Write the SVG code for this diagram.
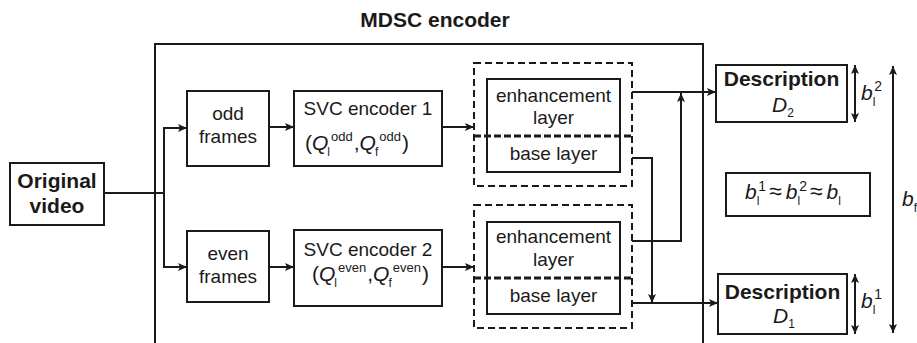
<svg xmlns="http://www.w3.org/2000/svg" width="917" height="343" viewBox="0 0 917 343">
  <defs>
    <marker id="arr" viewBox="0 0 9 8" refX="9" refY="4" markerWidth="9" markerHeight="8" markerUnits="userSpaceOnUse" orient="auto-start-reverse">
      <path d="M0,0 L9,4 L0,8 L2,4 z" fill="#1a1a1a"/>
    </marker>
    <style>
      .box { fill: #fff; stroke: #1a1a1a; stroke-width: 2; }
      .dash { fill: none; stroke: #1a1a1a; stroke-width: 2; stroke-dasharray: 7 4; }
      .mid { fill: none; stroke: #1a1a1a; stroke-width: 3.2; stroke-dasharray: 7 3; }
      .ln { fill: none; stroke: #1a1a1a; stroke-width: 2; }
      .ar { fill: none; stroke: #1a1a1a; stroke-width: 2; marker-end: url(#arr); }
      .dbl { fill: none; stroke: #1a1a1a; stroke-width: 2; marker-start: url(#arr); marker-end: url(#arr); }
      text { font-family: "Liberation Sans", Arial, sans-serif; fill: #1a1a1a; }
      .t { font-size: 19px; text-anchor: middle; }
      .b { font-size: 21px; font-weight: bold; text-anchor: middle; }
      .m { font-size: 21px; }
      .i { font-style: italic; }
      .s { font-size: 12px; }
      .p { font-size: 14px; }
      .q { font-size: 13px; }
      .ap { font-size: 23px; }
    </style>
  </defs>

  <rect width="917" height="343" fill="#fff"/>

  <!-- encoder frame -->
  <g id="mdsc-encoder">
    <path class="ln" d="M155,343 V44 H703 V343"/>
    <text class="b" x="435" y="27">MDSC encoder</text>
  </g>

  <g id="original-video">
    <rect class="box" x="10" y="163" width="94" height="62"/>
    <text class="b" x="57" y="188">Original</text>
    <text class="b" x="57" y="213">video</text>
  </g>

  <g id="odd-frames">
    <rect class="box" x="187" y="91" width="82" height="75"/>
    <text class="t" x="228" y="120">odd</text>
    <text class="t" x="228" y="143">frames</text>
  </g>

  <g id="even-frames">
    <rect class="box" x="187" y="231" width="82" height="71"/>
    <text class="t" x="228" y="260">even</text>
    <text class="t" x="228" y="283">frames</text>
  </g>

  <g id="svc-encoder-1">
    <rect class="box" x="294" y="91" width="148" height="75"/>
    <text class="t" x="368" y="115">SVC encoder 1</text>
    <text class="m" x="305" y="150">(<tspan class="i">Q</tspan><tspan class="s" dx="-1" dy="6">l</tspan><tspan class="q" dx="1" dy="-15">odd</tspan><tspan dx="1" dy="9">,</tspan><tspan class="i">Q</tspan><tspan class="s" dx="-1" dy="6">f</tspan><tspan class="q" dx="1" dy="-15">odd</tspan><tspan dx="1" dy="9">)</tspan></text>
  </g>

  <g id="svc-encoder-2">
    <rect class="box" x="294" y="230" width="148" height="76"/>
    <text class="t" x="368" y="256">SVC encoder 2</text>
    <text class="m" x="312" y="281">(<tspan class="i">Q</tspan><tspan class="s" dx="-1" dy="6">l</tspan><tspan class="q" dx="1" dy="-15">even</tspan><tspan dx="1" dy="9">,</tspan><tspan class="i">Q</tspan><tspan class="s" dx="-1" dy="6">f</tspan><tspan class="q" dx="1" dy="-15">even</tspan><tspan dx="1" dy="9">)</tspan></text>
  </g>

  <g id="layers-1">
    <rect class="dash" x="474" y="63" width="158" height="123"/>
    <rect class="box" x="487" y="79" width="133" height="93"/>
    <line class="mid" x1="474" y1="136" x2="632" y2="136"/>
    <text class="t" x="553.5" y="102">enhancement</text>
    <text class="t" x="553.5" y="124">layer</text>
    <text class="t" x="553.5" y="160">base layer</text>
  </g>

  <g id="layers-2">
    <rect class="dash" x="474" y="205" width="158" height="123"/>
    <rect class="box" x="487" y="222" width="133" height="92"/>
    <line class="mid" x1="474" y1="278" x2="632" y2="278"/>
    <text class="t" x="553.5" y="243">enhancement</text>
    <text class="t" x="553.5" y="266">layer</text>
    <text class="t" x="553.5" y="302">base layer</text>
  </g>

  <g id="description-2">
    <rect class="box" x="716" y="65" width="131" height="57"/>
    <text class="b" x="781.5" y="86">Description</text>
    <text class="m" x="772" y="112"><tspan class="i">D</tspan><tspan class="s" dy="5">2</tspan></text>
  </g>

  <g id="description-1">
    <rect class="box" x="718" y="274" width="129" height="60"/>
    <text class="b" x="782.5" y="299">Description</text>
    <text class="m" x="773" y="323"><tspan class="i">D</tspan><tspan class="s" dy="5">1</tspan></text>
  </g>

  <g id="rate-relation">
    <rect class="box" x="726" y="173" width="144" height="43"/>
    <text class="m" x="745" y="199"><tspan class="i">b</tspan><tspan class="s" dy="6">l</tspan><tspan class="p" dx="-1" dy="-14">1</tspan><tspan class="ap" dx="3" dy="8">≈</tspan><tspan class="i" dx="4">b</tspan><tspan class="s" dy="6">l</tspan><tspan class="p" dx="-1" dy="-14">2</tspan><tspan class="ap" dx="3" dy="8">≈</tspan><tspan class="i" dx="4">b</tspan><tspan class="s" dy="6">l</tspan></text>
  </g>

  <!-- rate labels -->
  <g id="rate-labels">
    <text class="m" x="861" y="100"><tspan class="i">b</tspan><tspan class="s" dy="6">l</tspan><tspan class="p" dx="-1" dy="-15">2</tspan></text>
    <text class="m" x="861" y="308"><tspan class="i">b</tspan><tspan class="s" dy="6">l</tspan><tspan class="p" dx="-1" dy="-15">1</tspan></text>
    <text class="m" x="902" y="206"><tspan class="i">b</tspan><tspan class="s" dy="6">f</tspan></text>
  </g>

  <g id="connectors">
    <polyline class="ln" points="104,193 164,193"/>
    <polyline class="ar" points="164,193 164,128 187,128"/>
    <polyline class="ar" points="164,193 164,267 187,267"/>
    <line class="ar" x1="269" y1="127" x2="294" y2="127"/>
    <line class="ar" x1="269" y1="267" x2="294" y2="267"/>
    <line class="ar" x1="442" y1="127" x2="474" y2="127"/>
    <line class="ar" x1="442" y1="267" x2="474" y2="267"/>
    <line class="ar" x1="632" y1="92" x2="716" y2="92"/>
    <polyline class="ar" points="632,241 681,241 681,93"/>
    <polyline class="ar" points="632,158 652,158 652,303"/>
    <line class="ar" x1="632" y1="303" x2="718" y2="303"/>
    <line class="dbl" x1="855" y1="65" x2="855" y2="122"/>
    <line class="dbl" x1="855" y1="274" x2="855" y2="334"/>
    <line class="dbl" x1="893" y1="66" x2="893" y2="333"/>
  </g>
</svg>
